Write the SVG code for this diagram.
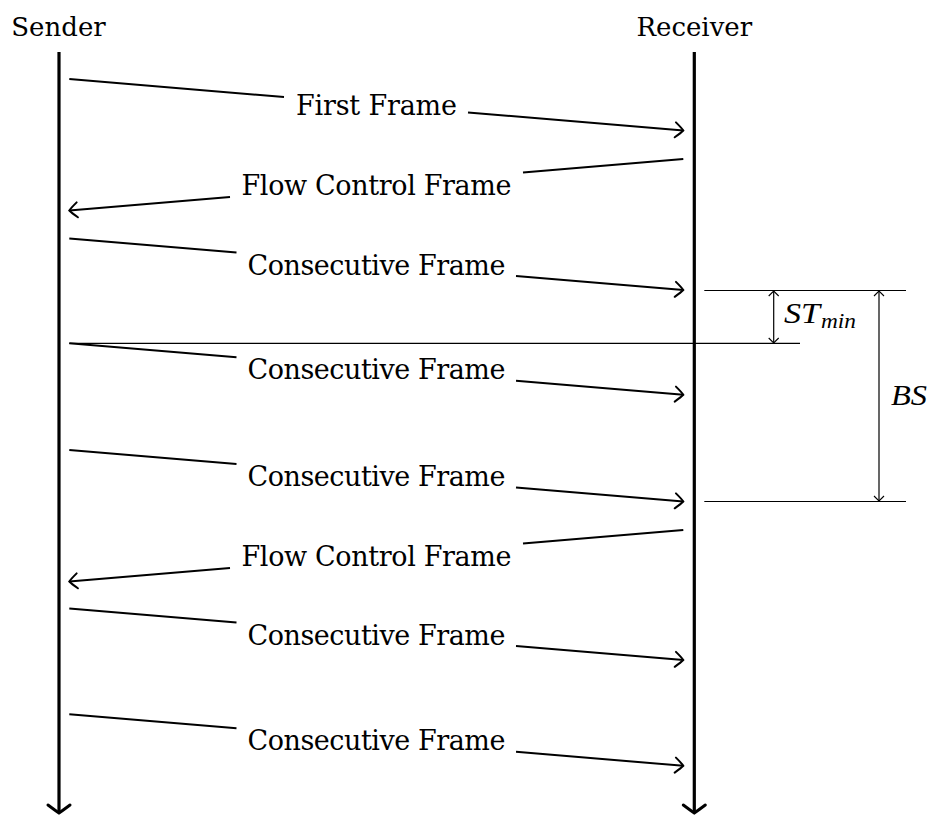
<svg xmlns="http://www.w3.org/2000/svg" width="933" height="816" viewBox="0 0 933 816">
<style>
  .lbl { font-family: "DejaVu Serif", "Liberation Serif", serif; font-size: 27px; fill: #000; text-anchor: middle; }
  .hdr { font-family: "DejaVu Serif", "Liberation Serif", serif; font-size: 26px; fill: #000; text-anchor: middle; }
  .math { font-family: "Liberation Serif", serif; font-style: italic; font-size: 29px; fill: #000; }
  .sub { font-family: "Liberation Serif", serif; font-style: italic; font-size: 21px; fill: #000; }
  .life { stroke: #000; stroke-width: 3.2; fill: none; marker-end: url(#lifeArrow); }
  .msg { stroke: #000; stroke-width: 2; fill: none; }
  .msg.end { marker-end: url(#msgArrow); }
  .thin { stroke: #000; stroke-width: 1.2; fill: none; }
  .dim { stroke: #000; stroke-width: 1.2; fill: none; marker-start: url(#dimArrow); marker-end: url(#dimArrow); }
</style>
<defs>
  <marker id="msgArrow" markerUnits="userSpaceOnUse" markerWidth="20" markerHeight="20" viewBox="-10 -10 20 20" refX="0" refY="0" orient="auto" overflow="visible">
    <path d="M-8,-7.5 Q-2,-2.5 0,0 Q-2,2.5 -8,7.5" stroke="#000" stroke-width="2" fill="none" stroke-linecap="round"/>
  </marker>
  <marker id="lifeArrow" markerUnits="userSpaceOnUse" markerWidth="30" markerHeight="30" viewBox="-15 -15 30 30" refX="0" refY="0" orient="auto" overflow="visible">
    <path d="M-8,-11 Q-2,-3 0,0 Q-2,3 -8,11" stroke="#000" stroke-width="3" fill="none" stroke-linecap="round"/>
  </marker>
  <marker id="dimArrow" markerUnits="userSpaceOnUse" markerWidth="14" markerHeight="14" viewBox="-7 -7 14 14" refX="0" refY="0" orient="auto-start-reverse" overflow="visible">
    <path d="M-5,-5 Q-1.5,-1.5 0,0 Q-1.5,1.5 -5,5" stroke="#000" stroke-width="1.1" fill="none"/>
  </marker>
</defs>
<rect width="933" height="816" fill="#fff"/>

<g id="sender">
  <text class="hdr" x="58.5" y="36">Sender</text>
  <line class="life" x1="59" y1="52" x2="59" y2="813"/>
</g>
<g id="receiver">
  <text class="hdr" x="694.3" y="36">Receiver</text>
  <line class="life" x1="694.3" y1="52" x2="694.3" y2="813"/>
</g>

<g id="connectors">
  <g id="m1">
    <line class="msg" x1="69.3" y1="79" x2="284" y2="97"/>
    <line class="msg end" x1="468" y1="112.4" x2="683.3" y2="130.5"/>
    <text class="lbl" x="376.5" y="115" textLength="161">First Frame</text>
  </g>
  <g id="m2">
    <line class="msg" x1="683.3" y1="159" x2="523" y2="172.4"/>
    <line class="msg end" x1="230" y1="197" x2="69.3" y2="210.5"/>
    <text class="lbl" x="376.5" y="195" textLength="270">Flow Control Frame</text>
  </g>
  <g id="m3">
    <line class="msg" x1="69.3" y1="238.5" x2="236.5" y2="252.5"/>
    <line class="msg end" x1="516" y1="276" x2="683.3" y2="290"/>
    <text class="lbl" x="376.5" y="274.5" textLength="258">Consecutive Frame</text>
  </g>
  <g id="m4">
    <line class="msg" x1="69.3" y1="343.3" x2="236.5" y2="357.3"/>
    <line class="msg end" x1="516" y1="380.8" x2="683.3" y2="394.8"/>
    <text class="lbl" x="376.5" y="379.4" textLength="258">Consecutive Frame</text>
  </g>
  <g id="m5">
    <line class="msg" x1="69.3" y1="450" x2="236.5" y2="464"/>
    <line class="msg end" x1="516" y1="487.5" x2="683.3" y2="501.5"/>
    <text class="lbl" x="376.5" y="486" textLength="258">Consecutive Frame</text>
  </g>
  <g id="m6">
    <line class="msg" x1="683.3" y1="530" x2="523" y2="543.4"/>
    <line class="msg end" x1="230" y1="568" x2="69.3" y2="581.5"/>
    <text class="lbl" x="376.5" y="566" textLength="270">Flow Control Frame</text>
  </g>
  <g id="m7">
    <line class="msg" x1="69.3" y1="608.5" x2="236.5" y2="622.5"/>
    <line class="msg end" x1="516" y1="646" x2="683.3" y2="660"/>
    <text class="lbl" x="376.5" y="644.5" textLength="258">Consecutive Frame</text>
  </g>
  <g id="m8">
    <line class="msg" x1="69.3" y1="714.3" x2="236.5" y2="728.3"/>
    <line class="msg end" x1="516" y1="751.8" x2="683.3" y2="765.8"/>
    <text class="lbl" x="376.5" y="750.4" textLength="258">Consecutive Frame</text>
  </g>
</g>

<g id="timing">
  <line class="thin" x1="704.3" y1="290.5" x2="906" y2="290.5"/>
  <line class="thin" x1="69.3" y1="343.3" x2="800" y2="343.3"/>
  <line class="thin" x1="704.3" y1="501.5" x2="906" y2="501.5"/>
  <line class="dim" x1="773.7" y1="291" x2="773.7" y2="343"/>
  <line class="dim" x1="879" y1="291" x2="879" y2="501"/>
  <text class="math" x="784" y="323" textLength="36" lengthAdjust="spacingAndGlyphs">ST</text>
  <text class="sub" x="821" y="328" textLength="35" lengthAdjust="spacingAndGlyphs">min</text>
  <text class="math" x="891" y="405" textLength="36" lengthAdjust="spacingAndGlyphs">BS</text>
</g>
</svg>
